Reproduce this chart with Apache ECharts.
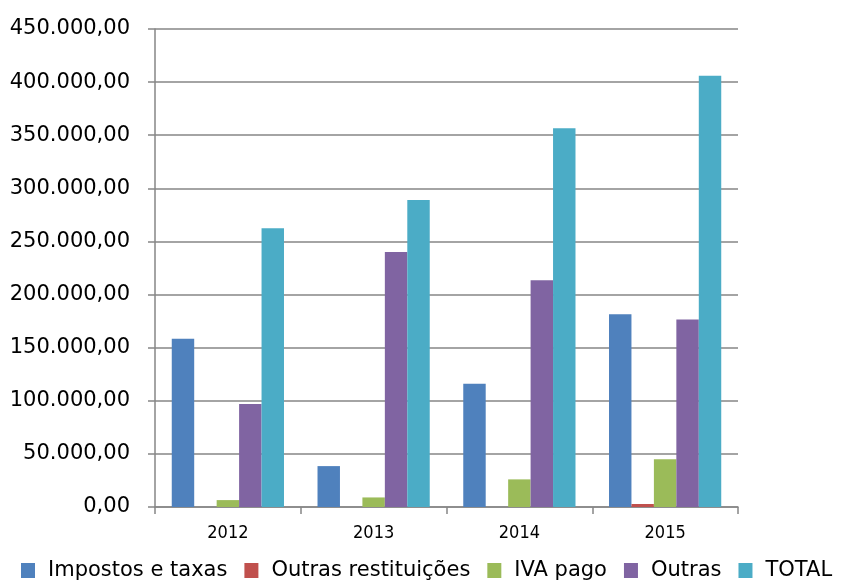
<!DOCTYPE html>
<html><head><meta charset="utf-8">
<script src="https://cdn.jsdelivr.net/npm/echarts@6/dist/echarts.min.js"></script>
<style>html,body{margin:0;padding:0;background:#fff}#c{width:845px;height:581px}</style>
</head><body><div id="c"></div>
<script>
const categories = ['2012', '2013', '2014', '2015'];
const seriesNames = ['Impostos e taxas', 'Outras restituições', 'IVA pago', 'Outras', 'TOTAL'];
const impostos = [158500, 38500, 116000, 181500];
const outrasRestituicoes = [0, 0, 0, 2800];
const ivaPago = [6500, 9000, 26000, 45000];
const outras = [97000, 240000, 213500, 176500];
const total = [262500, 289000, 356500, 406000];
const colors = ['#4F81BD', '#C0504D', '#9BBB59', '#8064A2', '#4BACC6'];
const yMin = 0, yMax = 450000, yStep = 50000;

function fmt(v) {
  const s = Math.round(v).toString().replace(/\B(?=(\d{3})+(?!\d))/g, '.');
  return s + ',00';
}
const allData = [impostos, outrasRestituicoes, ivaPago, outras, total];
const font = '"DejaVu Sans", sans-serif';
const fontC = '"DejaVu Sans Condensed", "DejaVu Sans", sans-serif';
const chart = echarts.init(document.getElementById('c'), null, {renderer: 'canvas'});
chart.setOption({
  animation: false,
  color: colors,
  grid: {left: 155, right: 107, top: 29, bottom: 74, containLabel: false},
  legend: {
    top: 560, left: 21, itemWidth: 14, itemHeight: 15, itemGap: 17,
    icon: 'rect', padding: 0,
    textStyle: {fontFamily: font, fontSize: 21, color: '#000', padding: [0, 0, 0, 8]},
    data: seriesNames
  },
  xAxis: {
    type: 'category', data: categories,
    axisLine: {lineStyle: {color: '#868686', width: 1.5}},
    axisTick: {show: true, length: 7, lineStyle: {color: '#868686', width: 1.5}},
    axisLabel: {fontFamily: fontC, fontSize: 18, color: '#000', margin: 17}
  },
  yAxis: {
    type: 'value', min: yMin, max: yMax, interval: yStep,
    axisLine: {show: true, lineStyle: {color: '#868686', width: 1.5}},
    axisTick: {show: true, length: 7, lineStyle: {color: '#868686', width: 1.5}},
    splitLine: {lineStyle: {color: '#868686', width: 1.5}},
    axisLabel: {fontFamily: font, fontSize: 21, color: '#000', margin: 25, formatter: fmt}
  },
  series: seriesNames.map((n, i) => ({
    name: n, type: 'bar', data: allData[i],
    barGap: '0%', barCategoryGap: '23%'
  }))
});
</script></body></html>
